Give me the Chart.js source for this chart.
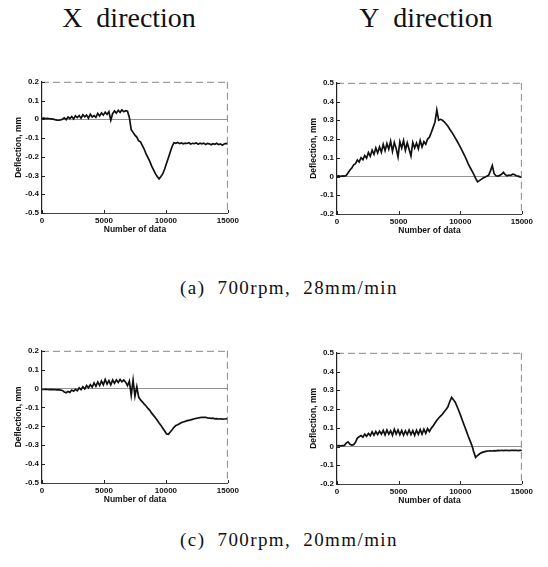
<!DOCTYPE html>
<html>
<head>
<meta charset="utf-8">
<script src="https://cdn.jsdelivr.net/npm/chart.js@4/dist/chart.umd.min.js"></script>
<style>
  body { margin:0; background:#fff; width:548px; height:567px; position:relative; overflow:hidden; }
  .head { position:absolute; font-family:"Liberation Serif", serif; font-size:28px; color:#111; white-space:nowrap; transform:translateX(-50%); }
  .cap { position:absolute; font-family:"Liberation Serif", serif; font-size:19px; letter-spacing:1.4px; word-spacing:6px; color:#111; white-space:nowrap; transform:translateX(-50%); }
  canvas { position:absolute; }
</style>
</head>
<body>
<div class="head" style="left:129px; top:2px;">X&nbsp; direction</div>
<div class="head" style="left:426px; top:2px;">Y&nbsp; direction</div>
<div class="cap" style="left:289px; top:277px;">(a) 700rpm, 28mm/min</div>
<div class="cap" style="left:289px; top:529px;">(c) 700rpm, 20mm/min</div>

<canvas id="c1"></canvas>
<canvas id="c2"></canvas>
<canvas id="c3"></canvas>
<canvas id="c4"></canvas>

<script>
// one sample every 150 data points, 0..15000
const sampleStep = 150;
const xTicks = [0, 5000, 10000, 15000];
const yTicksX = [-0.5, -0.4, -0.3, -0.2, -0.1, 0, 0.1, 0.2];
const yTicksY = [-0.2, -0.1, 0, 0.1, 0.2, 0.3, 0.4, 0.5];

// (a) 28mm/min, X direction
const defX28 = [
  0.005, 0.006, 0.004, 0.005, 0.003, 0.002, 0.001, -0.002, -0.004, -0.005, -0.003,
  0.000, 0.008, -0.002, 0.012, 0.004, 0.015, 0.002, 0.018, 0.009, 0.020,
  0.006, 0.024, 0.013, 0.022, 0.006, 0.027, 0.012, 0.020, 0.010, 0.031, 0.018, 0.034, 0.022,
  0.038, 0.026, 0.041,
  -0.005, 0.030, 0.045, 0.033, 0.048, 0.037, 0.050, 0.040, 0.046, 0.043,
  0.010, -0.055, -0.070, -0.085, -0.095, -0.115, -0.120, -0.140, -0.160, -0.185,
  -0.205, -0.225, -0.250, -0.270, -0.290, -0.305, -0.318, -0.305, -0.290, -0.265,
  -0.235, -0.205, -0.175, -0.145, -0.125,
  -0.128, -0.124, -0.130, -0.126, -0.131, -0.127, -0.129, -0.125, -0.132, -0.128,
  -0.130, -0.126, -0.133, -0.128, -0.131, -0.127, -0.134, -0.129, -0.131, -0.136,
  -0.130, -0.133, -0.128, -0.135, -0.131, -0.138, -0.132, -0.129, -0.131
];

// (a) 28mm/min, Y direction
const defY28 = [
  0.002, 0.003, 0.001, 0.003, 0.002,
  0.005, 0.020, 0.035, 0.045, 0.062, 0.068, 0.088, 0.078, 0.100, 0.090,
  0.112, 0.098, 0.128, 0.108, 0.140, 0.118, 0.152, 0.126, 0.158, 0.130,
  0.172, 0.138, 0.176, 0.146, 0.188, 0.134, 0.182, 0.150, 0.105, 0.186,
  0.152, 0.192, 0.140, 0.180, 0.146, 0.110, 0.182, 0.152, 0.178, 0.148,
  0.192, 0.158, 0.186, 0.172, 0.200, 0.210, 0.235, 0.262, 0.290, 0.355,
  0.300, 0.305, 0.300, 0.292, 0.280, 0.268, 0.252, 0.238, 0.222, 0.205,
  0.188, 0.170, 0.152, 0.132, 0.112, 0.090, 0.068, 0.048, 0.030, 0.012,
  -0.010, -0.028, -0.022, -0.015, -0.008, -0.004, 0.002, 0.006, 0.030, 0.058,
  0.015, 0.004, 0.002, 0.006, 0.012, 0.022, 0.010, 0.004, 0.008, 0.006,
  0.012, 0.010, 0.004, 0.002, -0.002, -0.005
];

// (c) 20mm/min, X direction
const defX20 = [
  -0.004, -0.005, -0.003, -0.005, -0.006, -0.004, -0.006, -0.005, -0.007, -0.006, -0.008,
  -0.010, -0.018, -0.022, -0.015, -0.020, -0.008, -0.014, -0.004, -0.012, 0.004,
  -0.006, 0.010, -0.002, 0.016, 0.004, 0.020, 0.008, 0.030, 0.012, 0.035,
  0.016, 0.040, 0.020, 0.048, 0.024, 0.042, 0.020, 0.045, 0.028, 0.046,
  0.032, 0.048, 0.036, 0.045, 0.034, 0.015, 0.040, -0.035, 0.045, -0.040,
  0.010, -0.045, -0.060, -0.070, -0.082, -0.092, -0.105, -0.115, -0.130, -0.142,
  -0.155, -0.168, -0.182, -0.195, -0.210, -0.225, -0.240, -0.242, -0.230, -0.218,
  -0.205, -0.196, -0.192, -0.186, -0.180, -0.177, -0.174, -0.170, -0.168, -0.166,
  -0.163, -0.160, -0.158, -0.156, -0.154, -0.152, -0.153, -0.152, -0.155, -0.156,
  -0.158, -0.157, -0.160, -0.159, -0.161, -0.160, -0.162, -0.161, -0.160, -0.158
];

// (c) 20mm/min, Y direction
const defY20 = [
  0.004, 0.005, 0.003, 0.005, 0.006,
  0.018, 0.025, 0.012, 0.008, 0.010, 0.022, 0.045, 0.052, 0.058, 0.050,
  0.066, 0.054, 0.070, 0.058, 0.078, 0.060, 0.080, 0.064, 0.082, 0.066,
  0.086, 0.062, 0.088, 0.066, 0.084, 0.060, 0.092, 0.066, 0.088, 0.063,
  0.086, 0.060, 0.084, 0.064, 0.088, 0.064, 0.085, 0.060, 0.087, 0.065,
  0.090, 0.066, 0.092, 0.070, 0.095, 0.080, 0.098, 0.110, 0.125, 0.140,
  0.152, 0.162, 0.172, 0.185, 0.198, 0.212, 0.240, 0.262, 0.250, 0.235,
  0.212, 0.188, 0.162, 0.135, 0.108, 0.082, 0.055, 0.030, 0.005, -0.030,
  -0.058, -0.048, -0.040, -0.034, -0.030, -0.027,
  -0.025, -0.024, -0.023, -0.024, -0.022, -0.023, -0.021, -0.022, -0.020, -0.022,
  -0.021, -0.020, -0.022, -0.021, -0.020, -0.021, -0.020, -0.022, -0.021, -0.020
];

const tickFont = { family: '"Liberation Sans", Arial, sans-serif', size: 8, weight: 'bold' };
const titleFont = { family: '"Liberation Sans", Arial, sans-serif', size: 8.5, weight: 'bold' };

// box edges: dashed top/right, inward ticks, like the scanned matlab plots
const boxPlugin = {
  id: 'box',
  afterDraw(chart) {
    const { ctx, chartArea: a, scales } = chart;
    ctx.save();
    ctx.strokeStyle = '#888';
    ctx.lineWidth = 1;
    ctx.setLineDash([7, 4]);
    ctx.beginPath();
    ctx.moveTo(a.left, a.top + 0.5); ctx.lineTo(a.right, a.top + 0.5);
    ctx.moveTo(a.right - 0.5, a.top); ctx.lineTo(a.right - 0.5, a.bottom);
    ctx.stroke();
    ctx.setLineDash([]);
    ctx.strokeStyle = '#222';
    ctx.beginPath();
    scales.y.ticks.forEach(t => {
      const py = Math.round(scales.y.getPixelForValue(t.value)) + 0.5;
      ctx.moveTo(a.left, py); ctx.lineTo(a.left + 3, py);
    });
    scales.x.ticks.forEach(t => {
      const px = Math.round(scales.x.getPixelForValue(t.value)) + 0.5;
      ctx.moveTo(px, a.bottom); ctx.lineTo(px, a.bottom - 3);
    });
    ctx.stroke();
    ctx.restore();
  }
};

function makePlot(id, box, yTicks, values) {
  const cv = document.getElementById(id);
  const w = box.right - box.left + 42 + 8;
  const h = box.bottom - box.top + 6 + 26;
  cv.width = w; cv.height = h;
  cv.style.left = (box.left - 42) + 'px';
  cv.style.top = (box.top - 6) + 'px';
  cv.style.width = w + 'px'; cv.style.height = h + 'px';

  const points = values.map((v, i) => ({ x: i * sampleStep, y: v }));

  return new Chart(cv, {
    type: 'line',
    data: { datasets: [{ data: points, borderColor: '#111', borderWidth: 1.7, pointRadius: 0, tension: 0 }] },
    plugins: [boxPlugin],
    options: {
      responsive: false,
      animation: false,
      layout: { padding: { top: 6, right: 8, left: 0, bottom: 0 } },
      plugins: { legend: { display: false }, tooltip: { enabled: false } },
      scales: {
        x: {
          type: 'linear', min: 0, max: 15000,
          afterBuildTicks: s => { s.ticks = xTicks.map(v => ({ value: v })); },
          afterFit: s => { s.height = 26; },
          grid: { display: false, drawTicks: false },
          border: { display: true, color: '#444', width: 1 },
          ticks: { font: tickFont, color: '#111', padding: 3, maxRotation: 0, autoSkip: false, callback: v => String(v) },
          title: { display: true, text: 'Number of data', font: titleFont, color: '#111', padding: { top: 0, bottom: 4 } }
        },
        y: {
          type: 'linear', min: yTicks[0], max: yTicks[yTicks.length - 1],
          afterBuildTicks: s => { s.ticks = yTicks.map(v => ({ value: v })); },
          afterFit: s => { s.width = 42; },
          grid: {
            drawTicks: false,
            color: c => (c.tick && c.tick.value === 0) ? '#777' : 'rgba(0,0,0,0)',
            lineWidth: 0.8
          },
          border: { display: true, color: '#222', width: 1.2 },
          ticks: { font: tickFont, color: '#111', padding: 3, autoSkip: false,
                   callback: v => v === 0 ? '0' : v.toFixed(1) },
          title: { display: true, text: 'Deflection, mm', font: titleFont, color: '#111', padding: { top: 14, bottom: 0 } }
        }
      }
    }
  });
}

makePlot('c1', { left: 42, top: 80, right: 234, bottom: 213 }, yTicksX, defX28);
makePlot('c2', { left: 337, top: 81, right: 528, bottom: 214 }, yTicksY, defY28);
makePlot('c3', { left: 42, top: 349, right: 234, bottom: 483 }, yTicksX, defX20);
makePlot('c4', { left: 337, top: 351, right: 528, bottom: 484 }, yTicksY, defY20);
</script>
</body>
</html>
